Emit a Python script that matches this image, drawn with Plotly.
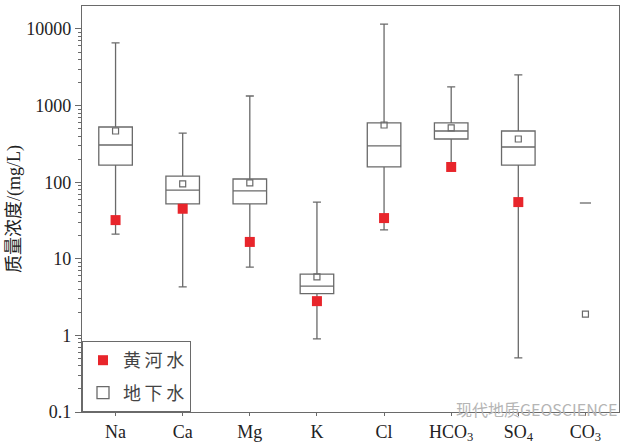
import plotly.graph_objects as go

categories = ["Na", "Ca", "Mg", "K", "Cl", "HCO<sub>3</sub>", "SO<sub>4</sub>", "CO<sub>3</sub>"]
positions = [0, 1, 2, 3, 4, 5, 6, 7]

# groundwater box statistics (mg/L), first 7 ions
box_pos = [0, 1, 2, 3, 4, 5, 6]
gw_min = [21, 4.3, 7.8, 0.9, 23.8, 155, 0.51]
gw_q1 = [167, 52, 52, 3.5, 158, 366, 167]
gw_median = [306, 79, 77, 4.4, 297, 466, 288]
gw_q3 = [525, 120, 110, 6.3, 593, 593, 466]
gw_max = [6570, 438, 1334, 55, 11600, 1750, 2510]
gw_mean = [466, 95, 98, 5.8, 558, 511, 366, 1.9]

# CO3 only has a single max dash
co3_pos = [7]
co3_max = [53.5]

# Yellow River water
river_pos = [0, 1, 2, 3, 4, 5, 6]
river = [32, 45, 16.6, 2.8, 34, 158, 55]

font_serif = "Liberation Serif, Times New Roman, Noto Sans CJK SC"
gray = "#6a6a6a"
red = "#e8252b"

fig = go.Figure()

fig.add_trace(go.Box(
    x=box_pos, q1=gw_q1, median=gw_median, q3=gw_q3,
    lowerfence=gw_min, upperfence=gw_max,
    width=0.5, whiskerwidth=0.24,
    fillcolor="rgba(0,0,0,0)",
    line=dict(color=gray, width=1.3),
    boxpoints=False, name="地\u2009下\u2009水", showlegend=True,
    legendrank=2, legendgroup="gw", hoverinfo="skip",
))

fig.add_trace(go.Scatter(
    x=positions, y=gw_mean, mode="markers",
    marker=dict(symbol="square-open", size=6, color=gray, line=dict(width=1.2, color=gray)),
    showlegend=False, hoverinfo="skip",
))

fig.add_trace(go.Scatter(
    x=co3_pos, y=co3_max, mode="markers",
    marker=dict(symbol="line-ew-open", size=8, color=gray, line=dict(width=1.3, color=gray)),
    showlegend=False, hoverinfo="skip",
))

fig.add_trace(go.Scatter(
    x=river_pos, y=river, mode="markers", name="黄\u2009河\u2009水",
    marker=dict(symbol="square", size=10, color=red),
    legendrank=1, legendgroup="river", hoverinfo="skip",
))

fig.update_layout(
    width=641, height=443,
    margin=dict(l=82, r=22, t=6, b=31),
    paper_bgcolor="white", plot_bgcolor="white",
    font=dict(family=font_serif, color="#222", size=17),
    legend=dict(
        x=0, y=0, xanchor="left", yanchor="bottom",
        bordercolor=gray, borderwidth=1, bgcolor="white",
        font=dict(size=18, family="Noto Sans CJK SC", color="#444"),
        tracegroupgap=6, itemwidth=30,
    ),
    annotations=[dict(
        text="现代地质GEOSCIENCE", xref="paper", yref="paper",
        x=1.0, y=0.0, xanchor="right", yanchor="middle", yshift=3,
        showarrow=False, font=dict(size=16, color="#b5b5b5", family="Noto Sans CJK SC"),
    )],
)

fig.update_xaxes(
    range=[-0.5, 7.5], tickmode="array", tickvals=positions, ticktext=categories,
    showline=True, linecolor=gray, linewidth=1.2, mirror=True,
    ticks="outside", ticklen=3, tickcolor=gray, automargin=False,
    showgrid=False, zeroline=False, tickfont=dict(size=18),
)

fig.update_yaxes(
    type="log", range=[-1, 4.3], automargin=False,
    tickvals=[0.1, 1, 10, 100, 1000, 10000],
    ticktext=["0.1", "1", "10", "100", "1000", "10000"],
    showline=True, linecolor=gray, linewidth=1.2, mirror=True,
    ticks="outside", ticklen=6, tickcolor=gray,
    minor=dict(ticks="outside", ticklen=3, tickcolor=gray, dtick="D1", showgrid=False),
    showgrid=False, zeroline=False, tickfont=dict(size=18),
    title=dict(text="质量浓度/(mg/L)", font=dict(size=18), standoff=0),
)

fig.write_html("out.html", config={"displayModeBar": False},
               post_script="document.body.style.margin='0px';")
